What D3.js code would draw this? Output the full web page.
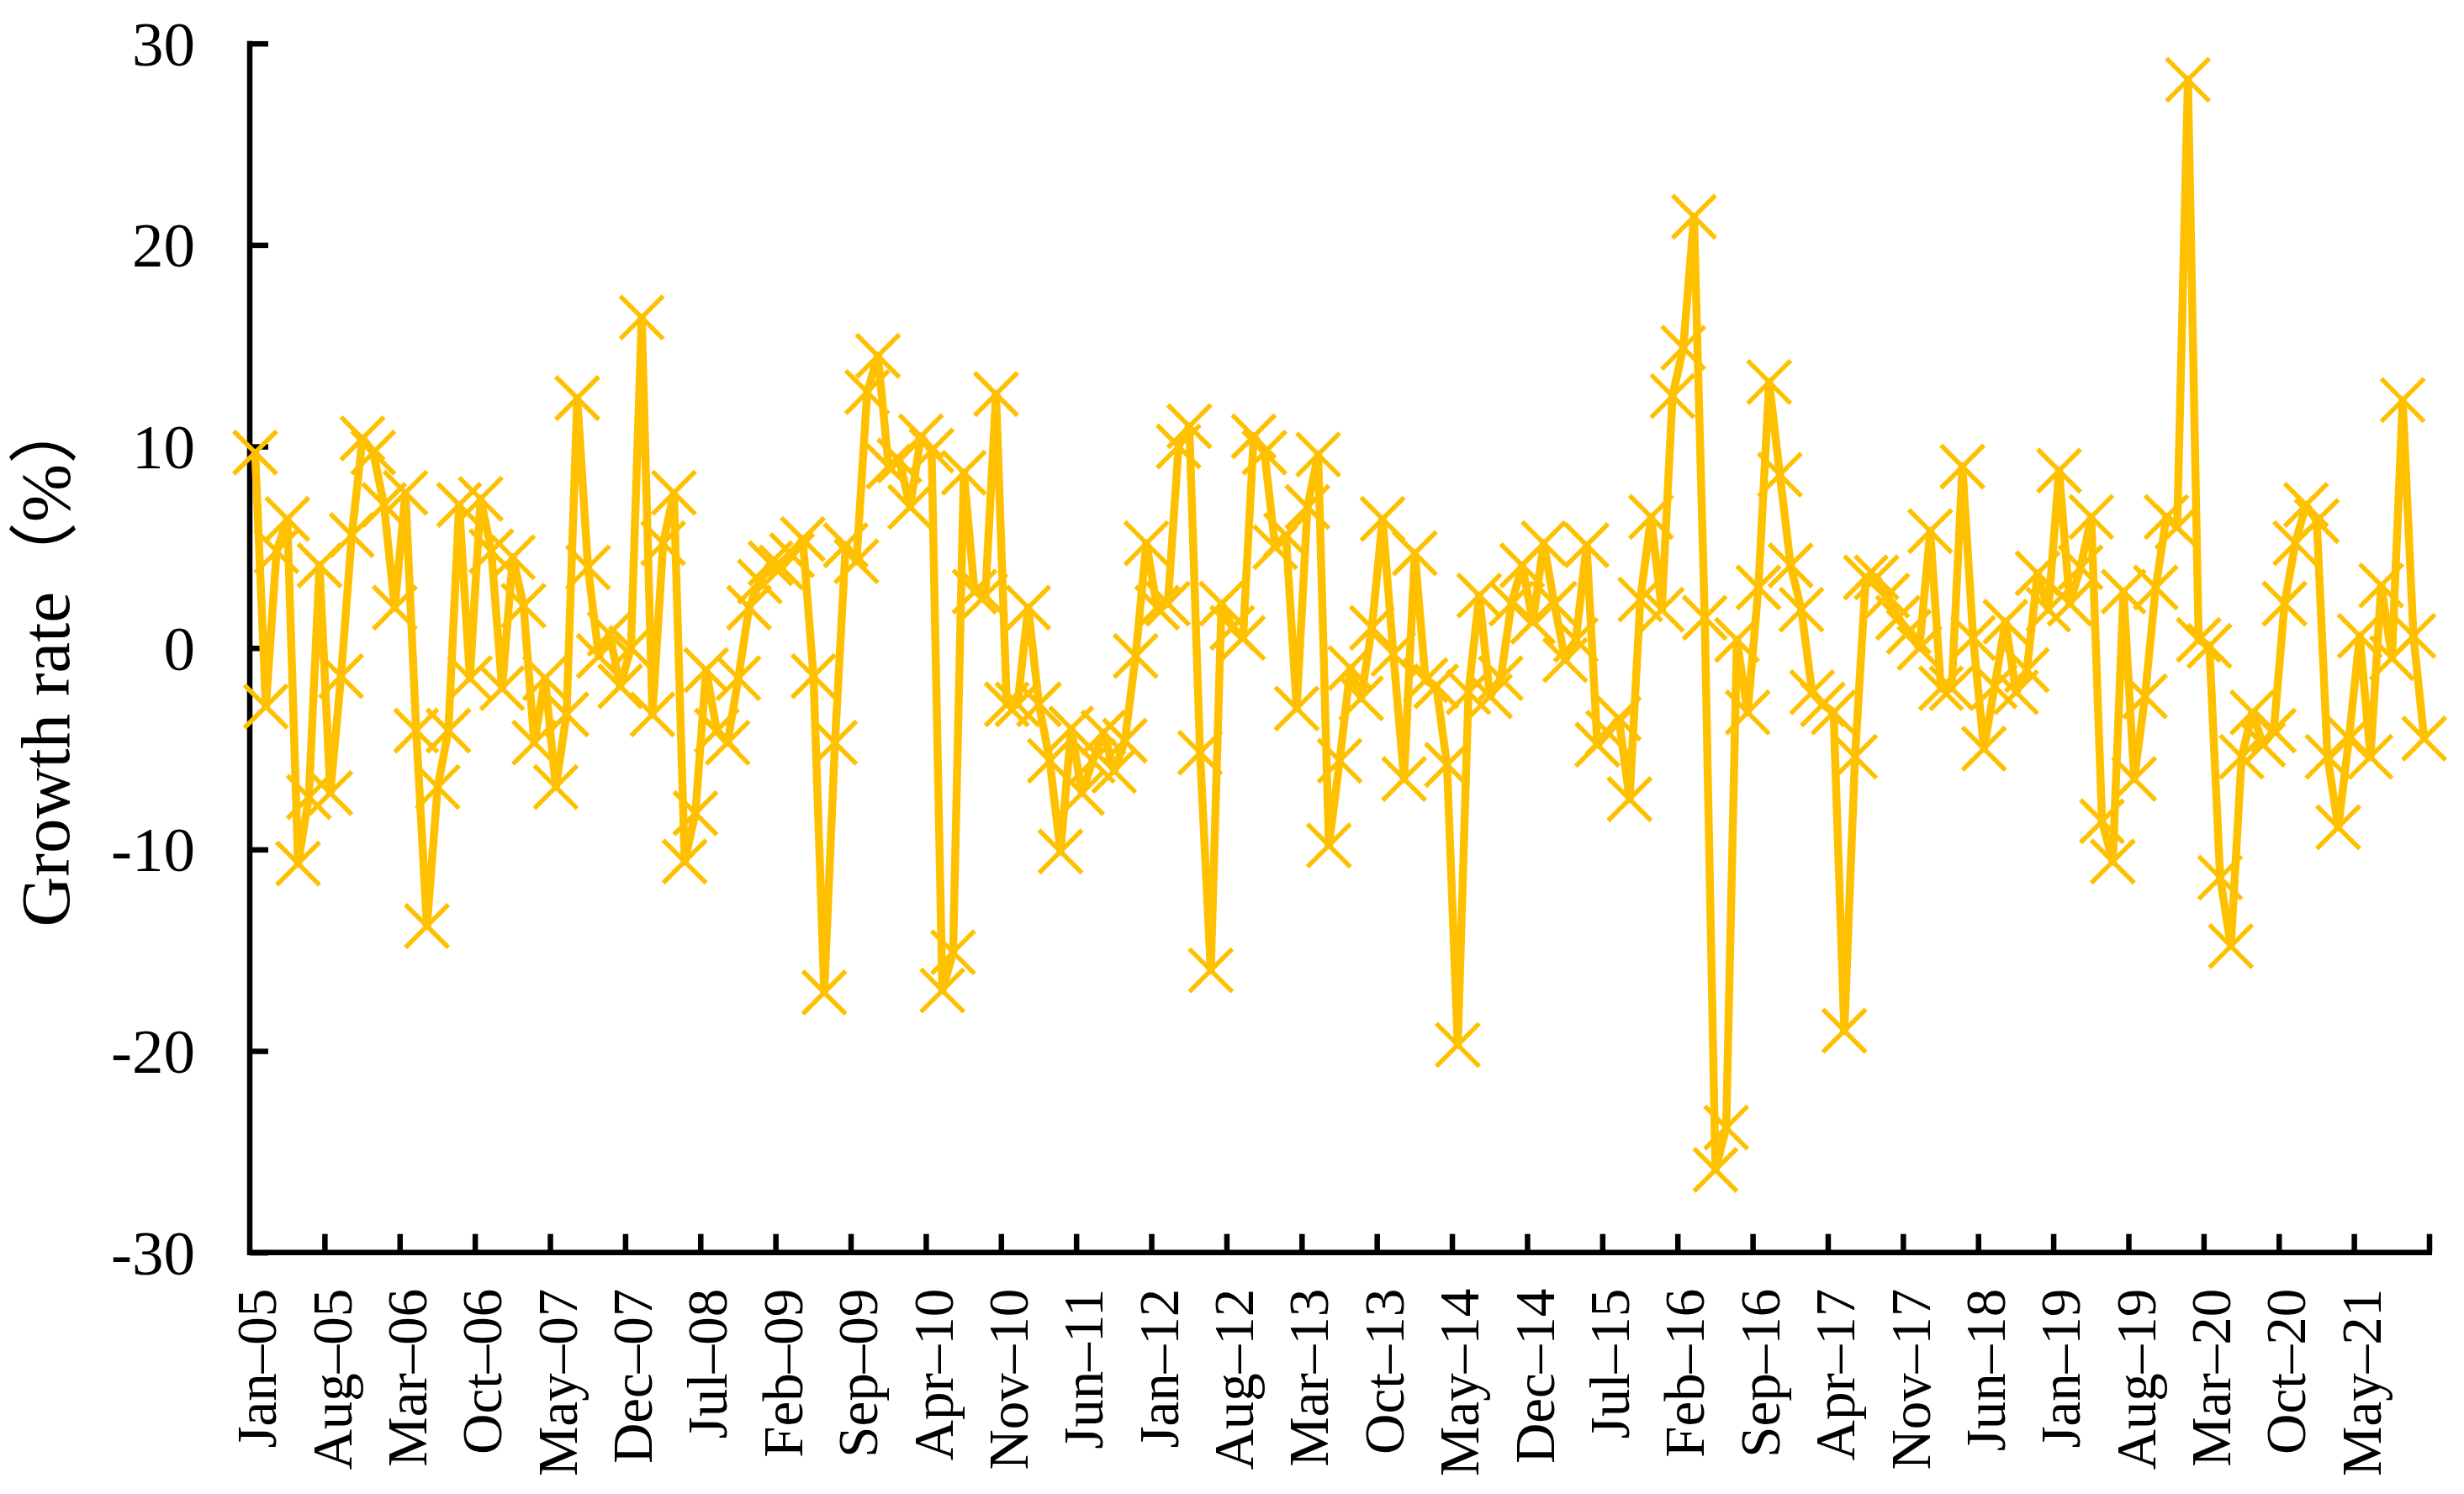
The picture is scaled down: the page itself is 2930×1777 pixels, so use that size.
<!DOCTYPE html>
<html><head><meta charset="utf-8">
<script src="https://cdn.jsdelivr.net/npm/d3@7"></script>
<style>html,body{margin:0;padding:0;background:#fff;} svg{display:block;}</style>
</head><body>
<script>
// ---- data ----
const monthNames = ["Jan","Feb","Mar","Apr","May","Jun","Jul","Aug","Sep","Oct","Nov","Dec"];
const years = ["05","06","07","08","09","10","11","12","13","14","15","16","17","18","19","20","21"];
const growthRate = [
  9.7,-2.9,4.8,6.4,-10.7,-7.4,4.1,-7.2,-1.4,5.6,10.4,9.7,
  7.1,2.0,7.7,-4.1,-13.8,-6.9,-4.1,7.1,-1.5,7.4,4.8,-2.0,
  4.5,2.1,-4.7,-1.5,-6.9,-3.3,12.4,4.0,-0.4,0.7,-1.9,0.0,
  16.4,-3.3,5.2,7.7,-10.6,-8.2,-1.1,-4.1,-4.7,-1.5,2.0,3.3,
  4.2,4.0,4.6,5.4,-1.4,-17.1,-4.7,5.1,4.3,12.7,14.5,9.0,
  9.3,7.0,10.5,9.8,-17.0,-15.1,8.7,2.8,2.6,12.6,-2.8,-2.8,
  2.0,-2.8,-5.6,-10.1,-4.0,-7.2,-5.6,-4.2,-6.1,-4.6,-0.4,5.2,
  2.0,2.2,10.0,11.0,-5.2,-16.0,2.2,1.0,0.5,10.5,9.7,5.0,
  5.6,-3.0,7.0,9.6,-9.8,-5.6,-1.0,-2.5,1.0,6.4,-0.3,-6.5,
  4.7,-1.6,-1.9,-5.8,-19.7,-2.2,2.6,-2.4,-1.5,2.2,4.1,1.3,
  5.2,2.2,-0.6,0.4,5.1,-4.8,-4.2,-3.5,-7.5,2.4,6.5,1.9,
  12.5,14.9,21.4,1.5,-25.9,-23.8,0.4,-3.2,3.0,13.2,8.6,4.1,
  1.9,-2.2,-2.8,-3.2,-19.0,-5.4,3.5,3.5,2.6,1.5,0.8,0.0,
  5.8,-2.0,-2.0,9.0,0.5,-5.0,-1.9,1.3,-2.2,-1.1,3.7,1.9,
  8.8,2.2,4.0,6.5,-8.6,-10.6,2.8,-6.5,-2.4,3.0,6.5,6.0,
  28.2,0.4,0.1,-11.4,-14.8,-5.4,-3.2,-4.8,-4.1,2.2,5.2,7.1,
  6.3,-5.4,-8.9,-4.5,0.6,-5.4,3.1,-0.5,12.3,0.6,-4.5
];
const categories = growthRate.map((_, i) => monthNames[i % 12] + "–" + years[Math.floor(i / 12)]);
const tickLabels = ["Jan–05","Aug–05","Mar–06","Oct–06","May–07","Dec–07","Jul–08","Feb–09","Sep–09","Apr–10",
  "Nov–10","Jun–11","Jan–12","Aug–12","Mar–13","Oct–13","May–14","Dec–14","Jul–15","Feb–16","Sep–16",
  "Apr–17","Nov–17","Jun–18","Jan–19","Aug–19","Mar–20","Oct–20","May–21"];
const yTicks = [-30,-20,-10,0,10,20,30];
const yTitle = "Growth rate（%）";

// ---- layout ----
const W = 2930, H = 1777;
const plotL = 297, plotR = 2889, plotT = 51.7, plotB = 1489.7;
const color = "#FFC000";
const serif = "'Liberation Serif','Times New Roman',serif";

const svg = d3.select("body").append("svg").attr("width", W).attr("height", H)
  .style("background", "#fff");

const x = d3.scaleBand().domain(categories).range([plotL, plotR]).paddingInner(0).paddingOuter(0);
const bw = x.bandwidth();
const cx = c => x(c) + bw / 2;
const y = d3.scaleLinear().domain([-30, 30]).range([plotB, plotT]);

// y axis
const yAxis = d3.axisLeft(y).tickValues(yTicks).tickSizeInner(-22).tickSizeOuter(0).tickPadding(65)
  .tickFormat(d => String(d));
const gy = svg.append("g").attr("transform", `translate(${plotL},0)`).call(yAxis);
gy.select(".domain").attr("stroke", "#000").attr("stroke-width", 6.5).attr("d", `M0,${plotT - 3}V${plotB + 3}`);
gy.selectAll(".tick line").attr("stroke", "#000").attr("stroke-width", 6.5);
gy.selectAll(".tick text").attr("font-family", serif).attr("font-size", 75).attr("fill", "#000")
  .attr("dy", "0.34em");

// x axis
const gx = svg.append("g");
gx.append("line").attr("x1", plotL - 3).attr("x2", plotR + 3).attr("y1", plotB).attr("y2", plotB)
  .attr("stroke", "#000").attr("stroke-width", 6.5);
const tickCats = categories.filter((_, i) => i % 7 === 0 && i > 0);
const tickXs = tickCats.map(c => x(c)).concat([plotR]);
gx.selectAll("line.xt").data(tickXs).join("line").attr("class", "xt")
  .attr("x1", d => d).attr("x2", d => d).attr("y1", plotB).attr("y2", plotB - 22)
  .attr("stroke", "#000").attr("stroke-width", 6.5);
gx.selectAll("text.xl").data(tickLabels).join("text").attr("class", "xl")
  .attr("transform", d => `translate(${cx(d) + 2},${plotB + 43}) rotate(-90)`)
  .attr("text-anchor", "end").attr("dy", "0.34em")
  .attr("font-family", serif).attr("font-size", 67).attr("fill", "#000")
  .text(d => d);

// y title
svg.append("text").attr("transform", `translate(54,${(plotT + plotB) / 2 + 15}) rotate(-90)`)
  .attr("text-anchor", "middle").attr("dy", "0.34em")
  .attr("font-family", "'Liberation Serif','Noto Sans CJK SC',serif").attr("font-size", 83).attr("fill", "#000")
  .text(yTitle);

// line
const line = d3.line().x((d, i) => cx(categories[i])).y(d => y(d));
svg.append("path").datum(growthRate).attr("d", line).attr("fill", "none")
  .attr("stroke", color).attr("stroke-width", 9.5).attr("stroke-linejoin", "round");

// markers
const m = 25.5;
svg.append("g").selectAll("path").data(growthRate).join("path")
  .attr("transform", (d, i) => `translate(${cx(categories[i])},${y(d)})`)
  .attr("d", `M${-m},${-m}L${m},${m}M${-m},${m}L${m},${-m}`)
  .attr("stroke", color).attr("stroke-width", 5.5).attr("fill", "none");
</script>
</body></html>
